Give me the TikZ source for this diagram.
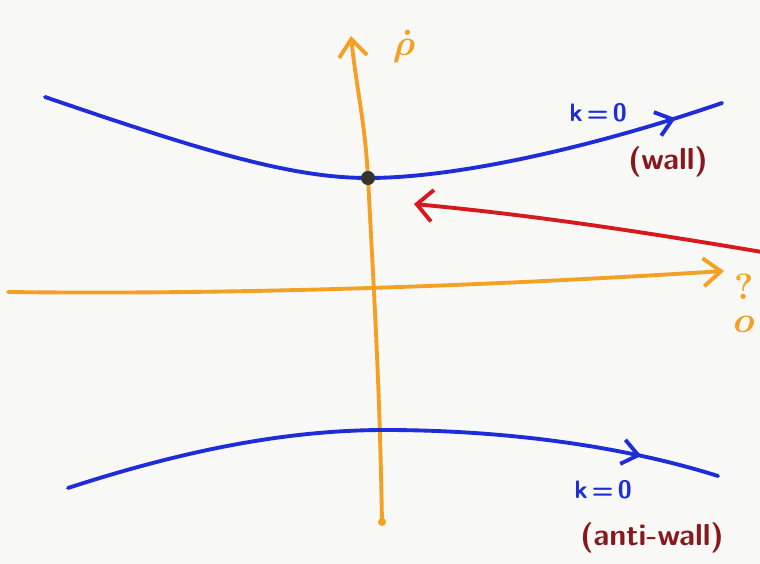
\documentclass[tikz,border=0pt]{standalone}
\usepackage{amsmath}
\usepackage{tikz}
\usetikzlibrary{arrows.meta,positioning,calc,decorations.markings}

\definecolor{sketchblue}{RGB}{30,45,215}
\definecolor{sketchorange}{RGB}{243,160,35}
\definecolor{sketchred}{RGB}{215,25,30}
\definecolor{sketchwine}{RGB}{135,25,30}
\definecolor{paper}{RGB}{248,248,246}

\tikzset{
    axisline/.style={line width=2.2pt, sketchorange, line cap=round},
    wallcurve/.style={line width=2.2pt, sketchblue, line cap=round,
        decoration={markings, mark=at position #1 with {\arrow{Straight Barb[length=9pt,width=14pt,line width=2.2pt]}}},
        postaction={decorate}},
    bluelabel/.style={sketchblue, font=\Large\bfseries\sffamily},
    winelabel/.style={sketchwine, font=\LARGE\bfseries\sffamily},
    orangelabel/.style={sketchorange, font=\huge\bfseries}
}

\begin{document}
\begin{tikzpicture}[x=0.02cm, y=-0.02cm]
    % Paper
    \fill[paper] (0,0) rectangle (760,564);
    \useasboundingbox (0,0) rectangle (760,564);

    % Axis end points
    \coordinate (vbot) at (382,522);
    \coordinate (vmid) at (368,178);
    \coordinate (vtop) at (351,36);
    \coordinate (hleft) at (8,292);
    \coordinate (hright) at (724,271);

    % Axes
    \draw[axisline, -{Straight Barb[length=10pt,width=16pt]}] (vbot) to[out=91,in=-87] (vmid) to[out=93,in=-84] (vtop);
    \draw[axisline, -{Straight Barb[length=10pt,width=16pt]}] (hleft) .. controls (250,295) and (500,285) .. (hright);
    \fill[sketchorange] (vbot) circle (4);

    % Axis labels
    \node[orangelabel] (pdot) at (404,46) {$\boldsymbol{\dot{\rho}}$};
    \node[orangelabel, align=center, inner sep=0pt] (hdot) at (744,303) {?\\[-6pt]$\boldsymbol{o}$};

    % Walls
    \draw[wallcurve=0.93] (45,97) .. controls (200,150) and (290,178) .. (vmid)
        .. controls (460,178) and (600,145) .. (722,103);
    \draw[wallcurve=0.88] (68,488) .. controls (200,445) and (300,430) .. (385,430)
        .. controls (500,430) and (620,445) .. (718,476);

    % Wall point
    \node[circle, fill=black!80, inner sep=0pt, minimum size=8pt] (wallpt) at (vmid) {};

    % Red pointer
    \coordinate (redstart) at (762,252);
    \coordinate (redtip) at (414,204);
    \draw[line width=2.2pt, sketchred, line cap=round, -{Straight Barb[length=9pt,width=18pt]}] (redstart) .. controls (620,228) and (520,214) .. (redtip);

    % Labels
    \node[bluelabel] (kwall) at (598,113) {k\,=\,0};
    \node[winelabel] (wall) at (668,162) {(wall)};
    \node[bluelabel] (kanti) at (603,490) {k\,=\,0};
    \node[winelabel] (anti) at (652,538) {(anti-wall)};
\end{tikzpicture}
\end{document}
